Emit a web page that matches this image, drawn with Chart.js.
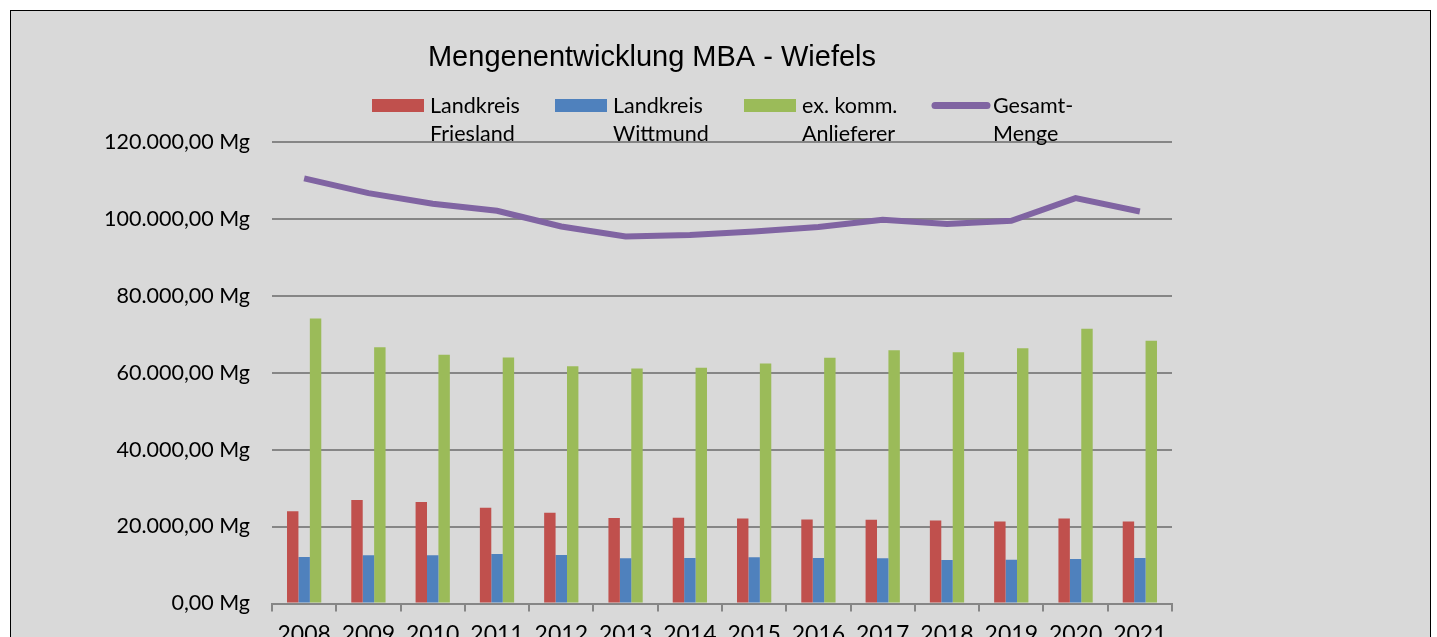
<!DOCTYPE html>
<html>
<head>
<meta charset="utf-8">
<script src="https://cdn.jsdelivr.net/npm/chart.js@4"></script>
<style>
  html, body { margin: 0; padding: 0; background: #ffffff; overflow: hidden; }
  #frame { position: absolute; left: 10px; top: 10px; width: 1419px; height: 700px;
           border: 1.5px solid #000; background: #d9d9d9; }
  #wrap { position: absolute; left: 0; top: 0; width: 1437px; height: 700px; }
</style>
</head>
<body>
<div id="frame"></div>
<div id="wrap"><canvas id="mba"></canvas></div>
<script>
var jahre = ["2008", "2009", "2010", "2011", "2012", "2013", "2014", "2015", "2016", "2017", "2018", "2019", "2020", "2021"];
var friesland = [23950, 26880, 26360, 24890, 23590, 22210, 22300, 22120, 21860, 21780, 21600, 21340, 22120, 21340];
var wittmund = [12080, 12510, 12510, 12860, 12600, 11730, 11820, 11990, 11820, 11730, 11300, 11390, 11560, 11820];
var anlieferer = [74080, 66620, 64630, 63940, 61690, 61080, 61260, 62380, 63850, 65840, 65320, 66360, 71380, 68270];
var gesamt = [110500, 106670, 103900, 102080, 98000, 95400, 95760, 96700, 97840, 99740, 98620, 99480, 105370, 101900];
var yTicks = [0, 20000, 40000, 60000, 80000, 100000, 120000];

function mg(v) {
    return v.toLocaleString("de-DE", { minimumFractionDigits: 2, maximumFractionDigits: 2 }) + " Mg";
}

// Legende mit zweizeiligen Texten
var legendePlugin = {
    id: "legende",
    afterDraw: function(chart) {
        var ctx = chart.ctx;
        var xs = [372, 555, 744, 931];
        ctx.save();
        ctx.font = "21.5px Lato";
        ctx.fillStyle = "#000";
        ctx.textBaseline = "middle";
        chart.data.datasets.forEach(function(ds, i) {
            var x = xs[i];
            if (ds.type === "line") {
                ctx.strokeStyle = ds.borderColor;
                ctx.lineWidth = 7;
                ctx.lineCap = "round";
                ctx.beginPath();
                ctx.moveTo(x + 4, 105.5);
                ctx.lineTo(x + 56, 105.5);
                ctx.stroke();
            } else {
                ctx.fillStyle = ds.backgroundColor;
                ctx.fillRect(x, 99, 52, 13);
            }
            ctx.fillStyle = "#000";
            ds.label.split("\n").forEach(function(t, k) {
                ctx.fillText(t, x + (ds.type === "line" ? 62 : 58), 106 + k * 28);
            });
        });
        ctx.restore();
    }
};

new Chart(document.getElementById("mba"), {
    type: "bar",
    data: {
        labels: jahre,
        datasets: [{
            label: "Landkreis\nFriesland",
            data: friesland,
            backgroundColor: "#c0504d",
            order: 2
        }, {
            label: "Landkreis\nWittmund",
            data: wittmund,
            backgroundColor: "#4f81bd",
            order: 2
        }, {
            label: "ex. komm.\nAnlieferer",
            data: anlieferer,
            backgroundColor: "#9bbb59",
            order: 2
        }, {
            type: "line",
            label: "Gesamt-\nMenge",
            data: gesamt,
            borderColor: "#8064a2",
            backgroundColor: "#8064a2",
            borderWidth: 6,
            pointRadius: 0,
            tension: 0,
            order: 1
        }]
    },
    options: {
        responsive: true,
        maintainAspectRatio: false,
        animation: false,
        categoryPercentage: 0.533,
        barPercentage: 1,
        layout: { padding: { left: 100, right: 233, top: 0, bottom: 36.5 } },
        plugins: {
            legend: { display: false },
            tooltip: { enabled: false },
            title: {
                display: true,
                text: "Mengenentwicklung MBA - Wiefels",
                color: "#000",
                font: { family: "Liberation Sans", size: 29, weight: "normal" },
                padding: { top: 41, bottom: 66 }
            }
        },
        scales: {
            x: {
                offset: true,
                grid: { offset: true, drawOnChartArea: false, color: "#868686", lineWidth: 2, tickLength: 8 },
                border: { color: "#868686", width: 2 },
                ticks: { color: "#000", font: { family: "Lato", size: 23 }, padding: 9, maxRotation: 0 },
                afterFit: function(s) { s.height = 60; }
            },
            y: {
                min: 0,
                max: 120000,
                afterBuildTicks: function(s) { s.ticks = yTicks.map(function(v) { return { value: v }; }); },
                grid: { color: "#868686", lineWidth: 2, drawTicks: false },
                border: { display: false },
                ticks: { color: "#000", font: { family: "Lato", size: 21.5 }, padding: 22, callback: function(v) { return mg(v); } },
                afterFit: function(s) { s.width = 172; }
            },
            rechts: {
                type: "linear",
                position: "right",
                min: 0,
                max: 120000,
                grid: { drawOnChartArea: false, drawTicks: false },
                border: { display: false },
                ticks: { display: false },
                afterFit: function(s) { s.width = 32; }
            }
        }
    },
    plugins: [legendePlugin]
});
</script>
</body>
</html>
